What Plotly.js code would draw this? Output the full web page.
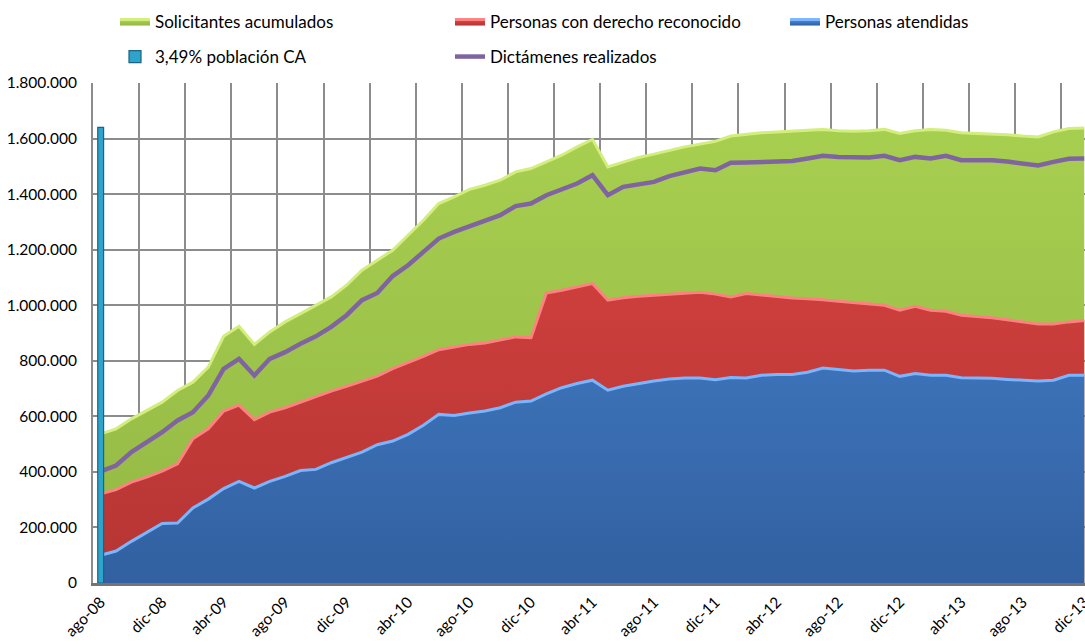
<!DOCTYPE html>
<html>
<head>
<meta charset="utf-8">
<script src="https://cdn.plot.ly/plotly-3.0.1.min.js"></script>
<style>
  html, body { margin: 0; padding: 0; background: #ffffff; }
  #chart { width: 1085px; height: 644px; }
</style>
</head>
<body>
<div id="chart"></div>
<script>
// Monthly categories (ago-08 ... dic-13)
const months = [
  'ago-08','sep-08','oct-08','nov-08','dic-08',
  'ene-09','feb-09','mar-09','abr-09','may-09','jun-09','jul-09','ago-09','sep-09','oct-09','nov-09','dic-09',
  'ene-10','feb-10','mar-10','abr-10','may-10','jun-10','jul-10','ago-10','sep-10','oct-10','nov-10','dic-10',
  'ene-11','feb-11','mar-11','abr-11','may-11','jun-11','jul-11','ago-11','sep-11','oct-11','nov-11','dic-11',
  'ene-12','feb-12','mar-12','abr-12','may-12','jun-12','jul-12','ago-12','sep-12','oct-12','nov-12','dic-12',
  'ene-13','feb-13','mar-13','abr-13','may-13','jun-13','jul-13','ago-13','sep-13','oct-13','nov-13','dic-13'
];

// Labelled months on the axis
const tickLabels = ['ago-08','dic-08','abr-09','ago-09','dic-09','abr-10','ago-10','dic-10',
  'abr-11','ago-11','dic-11','abr-12','ago-12','dic-12','abr-13','ago-13','dic-13'];

const solicitantes = [
  537000,555000,591000,621000,651000,693000,723000,777000,888000,924000,
  859000,904000,940000,970000,1000000,1030000,1072000,1126000,1162000,1198000,
  1252000,1306000,1366000,1390000,1417000,1432000,1450000,1480000,1492000,1516000,
  1540000,1570000,1597000,1498000,1516000,1532000,1544000,1558000,1570000,1580000,
  1590000,1609000,1616000,1621000,1624000,1628000,1630000,1633000,1628000,1626000,
  1628000,1633000,1618000,1628000,1633000,1630000,1621000,1618000,1616000,1614000,
  1609000,1606000,1624000,1636000,1638000
];

const derechoReconocido = [
  321000,336000,363000,381000,403000,429000,519000,555000,619000,640000,
  588000,615000,631000,651000,670000,691000,708000,727000,745000,772000,
  793000,816000,840000,850000,859000,864000,876000,886000,883000,1044000,
  1054000,1066000,1078000,1018000,1027000,1032000,1036000,1039000,1042000,1047000,
  1040000,1030000,1042000,1036000,1031000,1026000,1023000,1020000,1014000,1009000,
  1005000,1000000,982000,996000,982000,978000,964000,960000,955000,948000,
  940000,932000,932000,940000,945000
];

const atendidas = [
  100000,115000,150000,183000,214000,216000,270000,302000,340000,366000,
  342000,366000,384000,405000,409000,433000,453000,471000,498000,511000,
  535000,568000,607000,603000,612000,619000,631000,651000,655000,681000,
  703000,718000,730000,694000,708000,718000,727000,734000,738000,738000,
  732000,740000,738000,748000,751000,751000,759000,774000,769000,763000,
  766000,766000,744000,754000,748000,748000,739000,739000,737000,733000,
  730000,727000,730000,748000,748000
];

const dictamenes = [
  402000,423000,471000,507000,543000,585000,615000,675000,771000,807000,
  747000,807000,831000,861000,888000,922000,964000,1018000,1044000,1105000,
  1144000,1192000,1240000,1264000,1285000,1304000,1324000,1357000,1366000,1396000,
  1417000,1438000,1468000,1396000,1426000,1436000,1444000,1465000,1480000,1492000,
  1486000,1513000,1514000,1517000,1519000,1519000,1528000,1538000,1534000,1532000,
  1532000,1538000,1522000,1534000,1528000,1538000,1522000,1522000,1522000,1517000,
  1508000,1503000,1516000,1527000,1528000
];

// 3,49% población CA: a single column on the first month
const poblacionMonths = ['ago-08'];
const poblacionCA = [1640000];

const idx = months.map((m, i) => i);
const pos = arr => arr.map(m => months.indexOf(m));

const FONT = 'Lato, "Open Sans", "DejaVu Sans", sans-serif';

function area(name, y, top, bottom, edge, legendId) {
  return {
    type: 'scatter', mode: 'lines', name: name,
    x: idx, y: y, fill: 'tozeroy',
    fillcolor: top,
    fillgradient: { type: 'vertical', start: 0, stop: 1800000,
      colorscale: [[0, bottom], [1, top]] },
    line: { color: edge, width: 3, shape: 'linear' },
    legend: legendId, hoverinfo: 'skip'
  };
}

const traces = [
  area('Solicitantes acumulados', solicitantes, '#a9d150', '#93b845', '#d2ee7c', 'legend'),
  area('Personas con derecho reconocido', derechoReconocido, '#dc4542', '#b53533', '#ff8080', 'legend'),
  area('Personas atendidas', atendidas, '#4a8ad8', '#3260a0', '#79b6ff', 'legend3'),
  {
    type: 'bar', name: '3,49% población CA',
    x: pos(poblacionMonths), y: poblacionCA, width: 0.38,
    xaxis: 'x', yaxis: 'y2',
    marker: { color: '#2ea3cb', line: { color: '#1a6580', width: 1.2 } },
    legend: 'legend2', hoverinfo: 'skip'
  },
  {
    type: 'scatter', mode: 'lines', name: 'Dictámenes realizados',
    x: idx, y: dictamenes,
    line: { color: '#8064a2', width: 4.5 },
    legend: 'legend2', hoverinfo: 'skip'
  }
];

const tickIdx = tickLabels.map(m => months.indexOf(m));

function legendBox(xpx, ypx) {
  return {
    orientation: 'h', xref: 'container', yref: 'container',
    x: xpx / 1085, xanchor: 'left', y: 1 - ypx / 644, yanchor: 'top',
    entrywidth: 290, entrywidthmode: 'pixels',
    itemwidth: 30, font: { family: FONT, size: 17, color: '#000' },
    bgcolor: 'rgba(0,0,0,0)', traceorder: 'normal'
  };
}

const layout = {
  width: 1085, height: 644,
  paper_bgcolor: '#ffffff', plot_bgcolor: '#ffffff',
  margin: { l: 93, r: 0, t: 83, b: 61, pad: 0 },
  separators: ',.',
  font: { family: FONT, size: 15, color: '#000000' },
  showlegend: true,
  bargap: 0,
  xaxis: {
    range: [-0.5, 64.05],
    tickmode: 'array', tickvals: tickIdx, ticktext: tickLabels,
    tickangle: -45, ticks: '', showgrid: false, zeroline: false,
    ticklabeloverflow: 'allow', ticklabelstandoff: 1,
    showline: true, linecolor: '#747474', linewidth: 3,
    tickfont: { family: FONT, size: 15.5, color: '#000' },
    minor: { tickmode: 'linear', tick0: -0.5, dtick: 3, showgrid: true,
             gridcolor: '#8c8c8c', gridwidth: 2, ticks: '' },
    fixedrange: true
  },
  yaxis: {
    range: [0, 1800000], dtick: 200000, tick0: 0,
    tickformat: ',d', showgrid: true, gridcolor: '#8c8c8c', gridwidth: 2,
    zeroline: false, showline: true, linecolor: '#8c8c8c', linewidth: 2,
    ticks: '', ticklabelstandoff: 11,
    tickfont: { family: FONT, size: 15.5, color: '#000' },
    fixedrange: true
  },
  yaxis2: {
    overlaying: 'y', range: [0, 1800000], visible: false, fixedrange: true
  },
  legend: legendBox(115, 4),
  legend3: legendBox(785, 4),
  legend2: legendBox(115, 39)
};

Plotly.newPlot('chart', traces, layout, { displayModeBar: false, staticPlot: true });
</script>
</body>
</html>
